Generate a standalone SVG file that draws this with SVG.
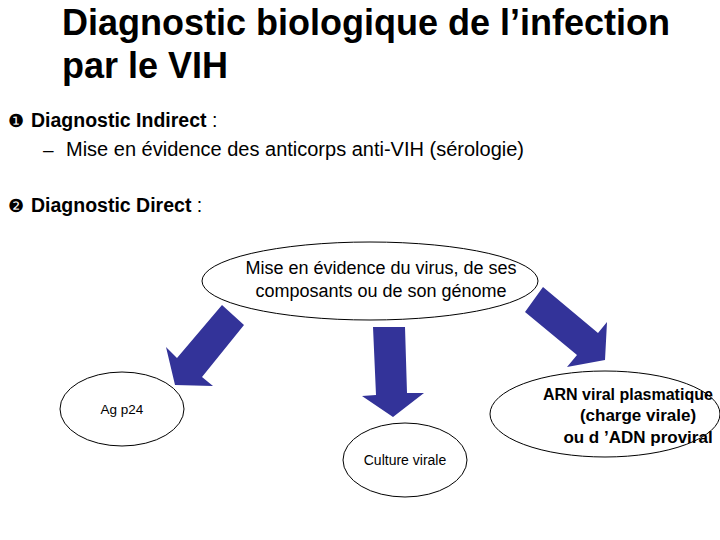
<svg xmlns="http://www.w3.org/2000/svg" width="720" height="540" viewBox="0 0 720 540">
<style>
.t{font-family:"Liberation Sans",Arial,sans-serif;fill:#000}
.b{font-weight:bold}
.el{fill:#fff;stroke:#000;stroke-width:1}
.ar{fill:#333399;stroke:none}
</style>
<rect width="720" height="540" fill="#fff"/>
<g id="title">
<text class="t b" x="62" y="35" font-size="36">Diagnostic biologique de l’infection</text>
<text class="t b" x="62" y="78" font-size="36">par le VIH</text>
</g>
<g id="bullets">
<text class="t" x="8" y="127" font-size="18" font-family="DejaVu Sans">❶</text>
<text class="t" x="31" y="127" font-size="19.5"><tspan class="b">Diagnostic Indirect</tspan> :</text>
<text class="t" x="43" y="156" font-size="19">–</text>
<text class="t" x="66" y="156" font-size="20">Mise en évidence des anticorps anti-VIH (sérologie)</text>
<text class="t" x="8" y="212" font-size="18" font-family="DejaVu Sans">❷</text>
<text class="t" x="31" y="212" font-size="19.5"><tspan class="b">Diagnostic Direct</tspan> :</text>
</g>
<g id="connectors">
<polygon class="ar" points="222,305 244,325 202,377 213,386 175,385 166,347 177,358"/>
<polygon class="ar" points="373,327 405,327 407,393 424,393 393,417 362,396 376,395"/>
<polygon class="ar" points="543,287 598,333 607,322 605,360 567,367 577,355 525,312"/>
</g>
<g id="node-source">
<ellipse class="el" cx="370" cy="281" rx="168" ry="39"/>
<text class="t" x="381" y="274" font-size="18" text-anchor="middle">Mise en évidence du virus, de ses</text>
<text class="t" x="381" y="297" font-size="18" text-anchor="middle">composants ou de son génome</text>
</g>
<g id="node-agp24">
<ellipse class="el" cx="122" cy="409" rx="62" ry="37"/>
<text class="t" x="122" y="414" font-size="13.5" text-anchor="middle">Ag p24</text>
</g>
<g id="node-culture">
<ellipse class="el" cx="405" cy="460" rx="62" ry="37"/>
<text class="t" x="405" y="465" font-size="14" text-anchor="middle">Culture virale</text>
</g>
<g id="node-arn">
<ellipse class="el" cx="605" cy="414" rx="115" ry="43"/>
<text class="t b" x="543" y="400" font-size="16">ARN viral plasmatique</text>
<text class="t b" x="638" y="421" font-size="17" text-anchor="middle">(charge virale)</text>
<text class="t b" x="638" y="443" font-size="17" text-anchor="middle">ou d ’ADN proviral</text>
</g>
</svg>
